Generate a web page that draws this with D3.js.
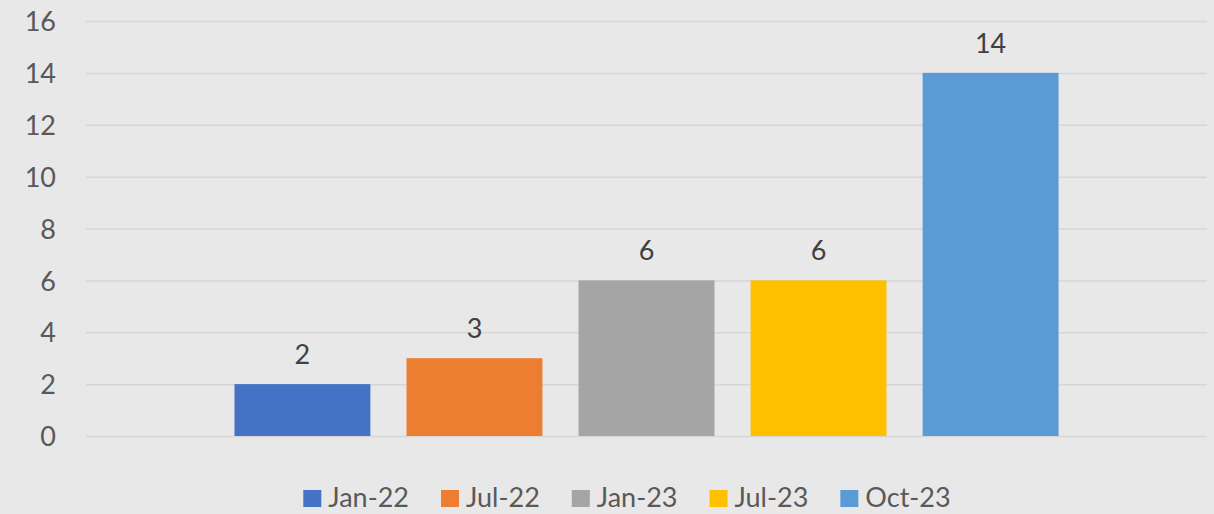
<!DOCTYPE html>
<html>
<head>
<meta charset="utf-8">
<script src="https://cdn.jsdelivr.net/npm/d3@7"></script>
<style>
  html, body { margin: 0; padding: 0; background: #e8e8e8; }
  #chart { width: 1214px; height: 514px; }
  text { font-family: Lato, "Open Sans", sans-serif; }
</style>
</head>
<body>
<div id="chart"></div>
<script>
(function () {
    'use strict';

    // data
    const months = ['Jan-22', 'Jul-22', 'Jan-23', 'Jul-23', 'Oct-23'];
    const counts = [2, 3, 6, 6, 14];
    const colors = ['#4472c4', '#ed7d31', '#a5a5a5', '#ffc000', '#5b9bd5'];
    const yTicks = [0, 2, 4, 6, 8, 10, 12, 14, 16];

    const width = 1214, height = 514;
    const margin = { top: 21, right: 7, bottom: 78, left: 86 };
    const innerW = width - margin.left - margin.right;
    const innerH = height - margin.top - margin.bottom;

    const svg = d3.select('#chart').append('svg')
        .attr('width', width).attr('height', height);

    svg.append('rect').attr('width', width).attr('height', height).attr('fill', '#e8e8e8');

    const g = svg.append('g').attr('transform', 'translate(' + margin.left + ',' + margin.top + ')');

    const xScale = d3.scaleBand().domain(months).range([0, innerW])
        .paddingInner(0.21).paddingOuter(0.863);
    const yScale = d3.scaleLinear().domain([0, 16]).range([innerH, 0]);

    // gridlines + tick labels
    const yAxis = d3.axisLeft(yScale).tickValues(yTicks).tickSize(-innerW).tickPadding(30);
    g.append('g').attr('class', 'yaxis').call(yAxis)
        .call(function (ax) { ax.select('.domain').remove(); })
        .call(function (ax) {
            ax.selectAll('.tick line').attr('stroke', '#d6d6d6').attr('stroke-width', 1.5);
            ax.selectAll('.tick text').attr('fill', '#595959').style('font-size', '27px')
                .attr('dy', '0.36em');
        });

    const data = months.map(function (m, i) { return { month: m, value: counts[i], color: colors[i] }; });

    g.selectAll('.bar').data(data).enter().append('rect')
        .attr('class', 'bar')
        .attr('x', function (d) { return xScale(d.month); })
        .attr('y', function (d) { return yScale(d.value); })
        .attr('width', xScale.bandwidth())
        .attr('height', function (d) { return innerH - yScale(d.value); })
        .attr('fill', function (d) { return d.color; });

    g.selectAll('.label').data(data).enter().append('text')
        .attr('class', 'label')
        .attr('x', function (d) { return xScale(d.month) + xScale.bandwidth() / 2; })
        .attr('y', function (d) { return yScale(d.value) - 20; })
        .attr('text-anchor', 'middle')
        .attr('fill', '#404040')
        .style('font-size', '27px')
        .text(function (d) { return d.value; });

    // legend: square, text, then gap to the next item; whole row centred
    const legend = svg.append('g').attr('class', 'legend');
    const items = legend.selectAll('g').data(data).enter().append('g');

    items.append('rect').attr('width', 18).attr('height', 17)
        .attr('y', 490)
        .attr('fill', function (d) { return d.color; });

    items.append('text').attr('x', 25).attr('y', 507)
        .attr('fill', '#595959').style('font-size', '27px')
        .text(function (d) { return d.month; });

    let cursor = 0;
    items.each(function () {
        const item = d3.select(this);
        item.attr('transform', 'translate(' + cursor + ',0)');
        cursor += 25 + item.select('text').node().getComputedTextLength() + 32;
    });
    const total = cursor - 32;
    legend.attr('transform', 'translate(' + (627 - total / 2) + ',0)');
}());
</script>
</body>
</html>
